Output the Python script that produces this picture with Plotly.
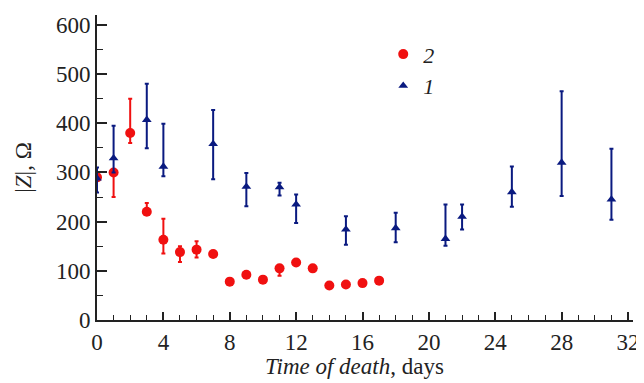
import plotly.graph_objects as go

# Series 2 (red circles)
x2 = [0, 1, 2, 3, 4, 5, 6, 7, 8, 9, 10, 11, 12, 13, 14, 15, 16, 17]
y2 = [290, 300, 380, 220, 163, 138, 143, 134, 78, 92, 82, 105, 117, 105, 70, 72, 75, 80]
e2_plus = [0, 0, 70, 18, 43, 12, 17, 0, 0, 0, 0, 0, 0, 0, 0, 0, 0, 5]
e2_minus = [0, 50, 20, 0, 28, 20, 16, 0, 0, 0, 0, 15, 0, 0, 0, 0, 0, 0]

# Series 1 (blue triangles)
x1 = [0, 1, 3, 4, 7, 9, 11, 12, 15, 18, 21, 22, 25, 28, 31]
y1 = [288, 329, 407, 312, 358, 271, 270, 235, 184, 187, 165, 210, 260, 320, 245]
e1_plus = [22, 66, 73, 87, 69, 28, 9, 20, 27, 31, 70, 25, 52, 145, 103]
e1_minus = [29, 29, 58, 20, 72, 40, 17, 38, 31, 29, 14, 26, 30, 68, 41]

x_ticks = [0, 4, 8, 12, 16, 20, 24, 28, 32]
y_ticks = [0, 100, 200, 300, 400, 500, 600]

RED = "#f01010"
BLUE = "#0a1a80"
FONT = "Liberation Serif, Times New Roman, serif"
TXT = "#222222"

fig = go.Figure()
fig.add_trace(go.Scatter(
    x=x2, y=y2, mode="markers", name="<i>2</i>",
    marker=dict(symbol="circle", size=10, color=RED),
    error_y=dict(type="data", symmetric=False, array=e2_plus, arrayminus=e2_minus,
                 color=RED, thickness=2, width=2),
))
fig.add_trace(go.Scatter(
    x=x1, y=y1, mode="markers", name="<i>1</i>",
    marker=dict(symbol="triangle-up", size=8.5, color=BLUE),
    error_y=dict(type="data", symmetric=False, array=e1_plus, arrayminus=e1_minus,
                 color=BLUE, thickness=2, width=2),
))

# page body has an 8px margin, so the figure is sized/offset to compensate
fig.update_layout(
    width=636, height=375,
    margin=dict(l=89, r=11, t=7, b=63),
    paper_bgcolor="white", plot_bgcolor="white",
    font=dict(family=FONT, size=23, color=TXT),
    showlegend=True,
    legend=dict(x=0.534, y=0.94, xanchor="left", yanchor="top",
                bgcolor="rgba(0,0,0,0)", font=dict(family=FONT, size=22, color=TXT),
                tracegroupgap=0, itemwidth=30),
    xaxis=dict(
        range=[0, 32.3], tickmode="array", tickvals=x_ticks,
        ticktext=[str(v) for v in x_ticks],
        tickfont=dict(family=FONT, size=23, color=TXT),
        ticks="inside", ticklen=8, tickwidth=1.5, tickcolor=TXT,
        minor=dict(dtick=1, ticks="inside", ticklen=5, tickwidth=1.2, tickcolor=TXT),
        showline=True, linecolor=TXT, linewidth=2,
        showgrid=False, zeroline=False, automargin=False,
    ),
    yaxis=dict(
        range=[0, 620], tickmode="array", tickvals=y_ticks,
        ticktext=[str(v) for v in y_ticks],
        tickfont=dict(family=FONT, size=23, color=TXT),
        ticks="inside", ticklen=10, tickwidth=1.5, tickcolor=TXT,
        minor=dict(dtick=50, ticks="inside", ticklen=6, tickwidth=1.2, tickcolor=TXT),
        showline=True, linecolor=TXT, linewidth=2,
        showgrid=False, zeroline=False, automargin=False,
        title=dict(text="|<i>Z</i>|, Ω",
                   font=dict(family=FONT, size=23, color=TXT), standoff=18),
    ),
    annotations=[dict(
        text="<i>Time of death</i>, days", xref="paper", yref="paper",
        x=0.48, y=-0.151, xanchor="center", yanchor="middle", showarrow=False,
        font=dict(family=FONT, size=23, color=TXT),
    )],
)

fig.write_html("out.html")
